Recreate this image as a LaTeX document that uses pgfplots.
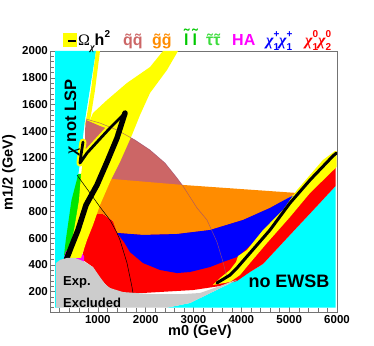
\documentclass[border=0pt]{standalone}
\usepackage{fontspec}
\setmainfont{Liberation Sans}
\newfontfamily\grk{Liberation Serif}
\usepackage{pgfplots}
\pgfplotsset{compat=1.18}

\definecolor{lspcol}{RGB}{0,255,255}
\definecolor{sqcol}{RGB}{204,102,102}
\definecolor{glcol}{RGB}{255,140,0}
\definecolor{slcol}{RGB}{0,200,0}
\definecolor{slreg}{RGB}{0,230,0}
\definecolor{stcol}{RGB}{60,220,60}
\definecolor{hacol}{RGB}{255,0,255}
\definecolor{chcol}{RGB}{0,0,255}
\definecolor{nncol}{RGB}{255,0,0}
\definecolor{excol}{RGB}{204,204,204}
\definecolor{omcol}{RGB}{255,255,0}
\definecolor{arccol}{RGB}{160,80,110}

% tilde over a letter, and small stacked super/subscripts
\newcommand\tld[2][0.05em]{\hbox{\ooalign{#2\cr\hidewidth\raisebox{#1}{˜}\hidewidth\cr}}}
\newcommand\ssz{\fontsize{10}{10}\selectfont}
\newcommand\supsub[2]{\rlap{\raisebox{0.5em}{\ssz #1}}\raisebox{-0.3em}{\ssz #2}}
\newcommand\chisym{{\grk\itshape χ}}

\begin{document}
\begin{tikzpicture}
\useasboundingbox (0,0) rectangle (374pt,345pt);
\begin{axis}[
  at={(50pt,33.3pt)}, anchor=south west,
  scale only axis, width=287pt, height=260.7pt,
  xmin=0, xmax=6000, ymin=50, ymax=2000,
  xtick={1000,2000,...,6000}, ytick={200,400,...,2000},
  minor xtick={200,400,...,6000}, minor ytick={80,120,...,2000},
  scaled ticks=false,
  /pgf/number format/1000 sep={},
  /pgf/number format/assume math mode=true,
  tick label style={font=\bfseries\fontsize{11.5}{12}\selectfont},
  yticklabel style={inner xsep=2pt},
  xtick pos=bottom, ytick pos=left,
  tick align=inside,
  major tick length=7pt, minor tick length=3.5pt,
  axis line style={black!55},
  every tick/.style={black!55},
  no markers,
]
% chi not LSP
\addplot[fill=lspcol, draw=none] coordinates {(105,2000) (962,2000) (732,1484) (606,1110) (502,885) (376,586) (293,437) (230,200) (210,80) (105,80)} -- cycle;
% no EWSB
\addplot[fill=lspcol, draw=none] coordinates {(5970,990) (5970,80) (2446,80) (2927,115) (3909,287) (4181,347) (4453,407) (5017,624) (5582,840)} -- cycle;
% squark
\addplot[fill=sqcol, draw=none] coordinates {(753,1491) (1045,1461) (1401,1409) (1777,1334) (2091,1259) (2404,1162) (2655,1050) (2780,990) (2800,945) (753,975)} -- cycle;
% chi10 chi20
\addplot[fill=nncol, draw=none] coordinates {(690,437) (711,698) (753,751) (899,781) (1108,781) (1317,728) (1463,639) (2091,676) (4181,796) (5143,915) (5645,1095) (5970,1170) (5970,990) (5582,840) (5017,624) (4453,407) (4181,347) (3909,280) (3554,242) (2990,212) (1944,190) (1463,190) (1213,235) (1045,302) (899,384)} -- cycle;
% gluino
\addplot[fill=glcol, draw=none] coordinates {(794,1058) (2780,998) (5164,938) (5017,908) (4599,826) (4035,736) (3345,661) (2655,631) (1944,624) (1401,639) (1317,728) (1108,781) (899,781) (753,751) (732,885)} -- cycle;
% chargino
\addplot[fill=chcol, draw=none] coordinates {(1401,639) (1944,624) (2655,631) (3345,661) (4035,736) (4599,826) (5017,908) (5164,930) (4871,796) (4599,684) (4244,564) (4014,489) (3909,459) (3617,422) (3345,384) (2927,347) (2655,339) (2300,362) (1944,414) (1672,496) (1547,571)} -- cycle;
% slepton
\addplot[fill=slreg, draw=none] coordinates {(585,1080) (700,1080) (640,885) (560,698) (480,549) (400,489) (293,470) (330,586) (450,885) (560,1035)} -- cycle;
% HA
\addplot[fill=hacol, draw=none] coordinates {(293,452) (335,504) (460,519) (627,512) (711,466) (711,422) (293,422)} -- cycle;
% Omega h^2: thin strip along the chi-not-LSP edge
\addplot[omcol, line width=4pt] coordinates {(1003,2000) (899,1708) (815,1521) (774,1446)};
% Omega h^2 band, left
\addplot[fill=omcol, draw=none] coordinates {(376,452) (502,661) (606,885) (648,1072) (690,1185) (711,1259) (753,1334) (774,1424) (836,1484) (899,1536) (1192,1633) (1610,1761) (2091,1880) (2362,2000) (2676,2000) (2446,1858) (2091,1686) (1882,1521) (1714,1372) (1463,1170) (1254,1020) (1045,848) (899,698) (774,586) (648,452)} -- cycle;
\addplot[fill=sqcol, draw=none] coordinates {(753,1484) (1045,1439) (1213,1417) (1045,1364) (836,1289) (732,1259) (732,1409)} -- cycle;
\addplot[omcol, line width=7pt, line join=round, line cap=round] coordinates {(1568,1536) (1254,1424) (983,1319) (774,1237) (627,1162) (648,1222) (690,1319)};
% Omega h^2 band, right
\addplot[fill=omcol, draw=none] coordinates {(5958,1252) (5990,1252) (5990,1132) (5436,938) (5017,758) (4537,564) (4181,414) (3972,324) (3763,272) (3408,250) (3554,302) (3763,362) (3889,422) (3930,466) (4118,512) (4453,661) (4871,811) (5164,960) (5707,1185)} -- cycle;
% thin contour lines
\addplot[black, line width=0.5pt] coordinates {(565,1072) (836,938) (1045,833) (1254,736) (1401,639) (1463,586) (1610,414) (1714,235) (1735,190)};
\addplot[arccol, line width=0.5pt, opacity=0.8] coordinates {(753,1491) (1045,1461) (1401,1409) (1777,1334) (2091,1259) (2404,1162) (2655,1050) (2780,990) (3073,826) (3282,736) (3491,571) (3617,422) (3700,302)};
% WMAP
\addplot[black, line width=5.5pt, line join=round, line cap=round] coordinates {(293,377) (355,452) (460,549) (585,661) (753,848) (983,998) (1192,1170) (1401,1349) (1568,1536)};
\addplot[black, line width=2.8pt, line join=round, line cap=round] coordinates {(1568,1536) (1254,1424) (983,1319) (774,1237) (627,1162) (648,1222) (690,1319)};
\addplot[black, line width=3pt, line join=round, line cap=round] coordinates {(5990,1237) (5916,1215) (5436,1035) (5017,863) (4599,661) (4181,489) (3909,377) (3763,324) (3491,265)};
% experimentally excluded
\addplot[fill=excol, draw=none] coordinates {(125,414) (209,437) (355,452) (523,452) (690,429) (899,384) (1045,309) (1150,257) (1254,227) (1526,197) (2091,182) (2780,182) (3136,190) (3554,242) (3826,280) (3909,287) (2927,115) (2446,80) (125,80)} -- cycle;
\end{axis}

\node[font=\bfseries\fontsize{14.5}{16}\selectfont] at (200pt,13pt) {m0 (GeV)};
\node[font=\bfseries\fontsize{14.5}{16}\selectfont, rotate=90] at (9pt,172pt) {m1/2 (GeV)};
\node[font=\bfseries\fontsize{16.5}{18}\selectfont, rotate=90] at (72pt,228pt) {\chisym{} not LSP};
\node[font=\bfseries\fontsize{18}{20}\selectfont] at (289pt,64pt) {no EWSB};
\node[font=\bfseries\fontsize{13}{14}\selectfont, anchor=west, inner sep=0pt] at (63pt,62.5pt) {Exp.};
\node[font=\bfseries\fontsize{13}{14}\selectfont, anchor=west, inner sep=0pt] at (63pt,42.5pt) {Excluded};

% header key
\fill[omcol] (63pt,298pt) rectangle (77pt,312pt);
\draw[line width=2.5pt] (68pt,304pt) -- (76pt,304pt);
\begin{scope}[every node/.style={anchor=base west, inner sep=0pt, font=\bfseries\fontsize{16}{18}\selectfont}]
\node at (78pt,299pt) {{\grk\mdseries Ω}\raisebox{-0.3em}{\ssz\grk\itshape χ}h\raisebox{0.5em}{\ssz 2}};
\node[text=sqcol] at (123pt,299pt) {\tld{q}\tld{q}};
\node[text=glcol] at (152pt,299pt) {\tld{g}\tld{g}};
\node[text=slcol] at (184pt,299pt) {\tld[0.32em]{l}\hspace{4pt}\tld[0.32em]{l}};
\node[text=stcol] at (206pt,299pt) {\tld{τ}\tld{τ}};
\node[text=hacol] at (232pt,299pt) {HA};
\node[text=chcol] at (266pt,299pt) {\chisym\supsub{+}{1}\chisym\supsub{+}{1}};
\node[text=nncol] at (305pt,299pt) {\chisym\supsub{0}{1}\chisym\supsub{0}{2}};
\end{scope}
\end{tikzpicture}
\end{document}
